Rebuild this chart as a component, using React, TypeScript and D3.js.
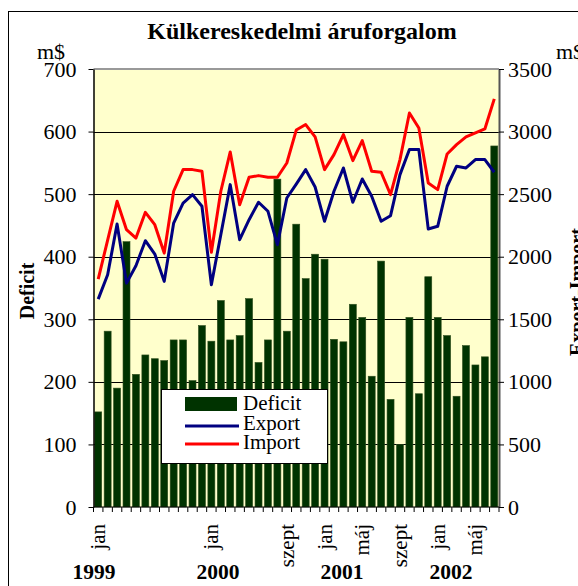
import React, { useEffect, useRef } from 'react';
import * as d3 from 'd3';

// monthly data, Jan 1999 - Jul 2002
const categories = [
  '1999-01', '1999-02', '1999-03', '1999-04', '1999-05', '1999-06', '1999-07', '1999-08', '1999-09', '1999-10', '1999-11', '1999-12',
  '2000-01', '2000-02', '2000-03', '2000-04', '2000-05', '2000-06', '2000-07', '2000-08', '2000-09', '2000-10', '2000-11', '2000-12',
  '2001-01', '2001-02', '2001-03', '2001-04', '2001-05', '2001-06', '2001-07', '2001-08', '2001-09', '2001-10', '2001-11', '2001-12',
  '2002-01', '2002-02', '2002-03', '2002-04', '2002-05', '2002-06', '2002-07',
];

const deficit = [
  152, 281, 190, 424, 212, 243, 237, 234, 267, 267, 202, 290,
  265, 330, 267, 274, 333, 231, 267, 524, 281, 452, 365, 404,
  396, 268, 264, 324, 303, 209, 393, 172, 100, 303, 181, 368,
  303, 274, 177, 258, 227, 240, 577,
];

const exportValues = [
  1661, 1856, 2261, 1789, 1928, 2128, 2021, 1803, 2269, 2429, 2496, 2403,
  1776, 2176, 2576, 2136, 2296, 2435, 2363, 2096, 2469, 2580, 2696, 2557,
  2283, 2523, 2709, 2435, 2621, 2483, 2283, 2328, 2656, 2856, 2856, 2221,
  2243, 2563, 2723, 2709, 2776, 2776, 2675,
];

const importValues = [
  1821, 2133, 2443, 2216, 2149, 2355, 2256, 2029, 2523, 2696, 2696, 2683,
  2035, 2523, 2837, 2416, 2635, 2648, 2635, 2635, 2749, 3012, 3056, 2957,
  2696, 2816, 2976, 2768, 2928, 2683, 2675, 2496, 2776, 3149, 3029, 2589,
  2536, 2821, 2896, 2957, 2989, 3021, 3261,
];

const monthNames = ['jan', 'febr', 'márc', 'ápr', 'máj', 'jún', 'júl', 'aug', 'szept', 'okt', 'nov', 'dec'];
const labelledMonths = ['1999-01', '2000-01', '2000-09', '2001-01', '2001-05', '2001-09', '2002-01', '2002-05'];
const years = ['1999', '2000', '2001', '2002'];

const leftTicks = [0, 100, 200, 300, 400, 500, 600, 700];
const rightTicks = [0, 500, 1000, 1500, 2000, 2500, 3000, 3500];

const FONT = '"Liberation Serif", "Times New Roman", serif';

const App = () => {
  const ref = useRef<SVGSVGElement>(null);

  useEffect(() => {
    const svg = d3.select(ref.current);
    svg.selectAll('*').remove();

    const left = 93.5, right = 499, top = 69, bottom = 507;

    const x = d3.scaleBand<string>()
      .domain(categories)
      .range([left, right])
      .paddingInner(0.26)
      .paddingOuter(0.13);
    const step = x.step();
    const center = (c: string) => (x(c) as number) + x.bandwidth() / 2;

    const yL = d3.scaleLinear().domain([0, 700]).range([bottom, top]);
    const yR = d3.scaleLinear().domain([0, 3500]).range([bottom, top]);

    // outer chart frame (runs off the page on right/bottom)
    svg.append('rect')
      .attr('x', 8.5).attr('y', 11.5)
      .attr('width', 600).attr('height', 600)
      .attr('fill', 'white').attr('stroke', '#000');

    // plot area
    svg.append('rect')
      .attr('x', left).attr('y', top)
      .attr('width', right - left).attr('height', bottom - top)
      .attr('fill', '#FFFFCC');
    svg.append('line')
      .attr('x1', left).attr('x2', right).attr('y1', top).attr('y2', top)
      .attr('stroke', '#999').attr('stroke-width', 2);

    // gridlines
    svg.append('g')
      .selectAll('line')
      .data(leftTicks.filter(t => t > 0 && t < 700))
      .enter().append('line')
      .attr('x1', left).attr('x2', right)
      .attr('y1', d => Math.round(yL(d)) + 0.5).attr('y2', d => Math.round(yL(d)) + 0.5)
      .attr('stroke', '#000');

    // bars
    svg.append('g')
      .selectAll('rect')
      .data(categories)
      .enter().append('rect')
      .attr('x', d => x(d) as number)
      .attr('y', (d, i) => yL(deficit[i]))
      .attr('width', x.bandwidth())
      .attr('height', (d, i) => bottom - yL(deficit[i]))
      .attr('fill', '#003300')
      .attr('stroke', '#2f4f1f')
      .attr('stroke-width', 0.6);

    // lines
    const line = d3.line<number>()
      .x((d, i) => center(categories[i]))
      .y(d => yR(d));
    svg.append('path')
      .datum(exportValues)
      .attr('d', line)
      .attr('fill', 'none')
      .attr('stroke', '#000080')
      .attr('stroke-width', 3)
      .attr('stroke-linejoin', 'round');
    svg.append('path')
      .datum(importValues)
      .attr('d', line)
      .attr('fill', 'none')
      .attr('stroke', '#FF0000')
      .attr('stroke-width', 3)
      .attr('stroke-linejoin', 'round');

    // axes
    const axisLeft = svg.append('g')
      .attr('transform', `translate(${left},0)`)
      .call(d3.axisLeft(yL).tickValues(leftTicks).tickSize(5).tickPadding(12).tickSizeOuter(0));
    const axisRight = svg.append('g')
      .attr('transform', `translate(${right},0)`)
      .call(d3.axisRight(yR).tickValues(rightTicks).tickFormat(d3.format('d')).tickSize(5).tickPadding(4).tickSizeOuter(0));
    [axisLeft, axisRight].forEach(g => {
      g.select('.domain').attr('stroke', '#000').attr('stroke-width', 1.5);
      g.selectAll('line').attr('stroke', '#000');
      g.selectAll('text')
        .attr('font-family', FONT)
        .attr('font-size', 22)
        .attr('fill', '#000');
    });
    axisRight.select('.domain').attr('stroke', '#555').attr('stroke-width', 2);

    // bottom axis
    svg.append('line')
      .attr('x1', left).attr('x2', right).attr('y1', bottom).attr('y2', bottom)
      .attr('stroke', '#000');
    svg.append('g')
      .selectAll('line')
      .data(d3.range(categories.length + 1))
      .enter().append('line')
      .attr('x1', k => left + k * step).attr('x2', k => left + k * step)
      .attr('y1', bottom).attr('y2', bottom + 5)
      .attr('stroke', '#000');

    svg.append('g')
      .selectAll('text')
      .data(labelledMonths)
      .enter().append('text')
      .attr('transform', d => `translate(${center(d) + 7},524) rotate(-90)`)
      .attr('text-anchor', 'end')
      .attr('font-family', FONT)
      .attr('font-size', 21)
      .text(d => monthNames[+d.slice(5) - 1]);

    const yearPos = [-0.45, 12.7, 25.85, 37.4];
    svg.append('g')
      .selectAll('text')
      .data(years)
      .enter().append('text')
      .attr('x', (d, i) => left + (yearPos[i] + 0.5) * step)
      .attr('y', 579)
      .attr('text-anchor', 'middle')
      .attr('font-family', FONT)
      .attr('font-size', 21.5)
      .attr('font-weight', 'bold')
      .text(d => d);

    // titles
    svg.append('text')
      .attr('x', 302).attr('y', 39)
      .attr('text-anchor', 'middle')
      .attr('font-family', FONT)
      .attr('font-size', 24)
      .attr('font-weight', 'bold')
      .text('Külkereskedelmi áruforgalom');
    svg.append('text')
      .attr('x', 37).attr('y', 59)
      .attr('font-family', FONT).attr('font-size', 22)
      .text('m$');
    svg.append('text')
      .attr('x', 556).attr('y', 59)
      .attr('font-family', FONT).attr('font-size', 22)
      .text('m$');
    svg.append('text')
      .attr('transform', 'translate(34,291) rotate(-90)')
      .attr('text-anchor', 'middle')
      .attr('font-family', FONT).attr('font-size', 20).attr('font-weight', 'bold')
      .text('Deficit');
    svg.append('text')
      .attr('transform', 'translate(584,292) rotate(-90)')
      .attr('text-anchor', 'middle')
      .attr('font-family', FONT).attr('font-size', 20).attr('font-weight', 'bold')
      .text('Export-Import');

    // legend
    const legend = svg.append('g');
    legend.append('rect')
      .attr('x', 161.5).attr('y', 389.5)
      .attr('width', 166).attr('height', 74)
      .attr('fill', 'white').attr('stroke', '#000');
    legend.append('rect')
      .attr('x', 185).attr('y', 397)
      .attr('width', 52).attr('height', 14)
      .attr('fill', '#003300');
    legend.append('line')
      .attr('x1', 185).attr('x2', 239).attr('y1', 426).attr('y2', 426)
      .attr('stroke', '#000080').attr('stroke-width', 3);
    legend.append('line')
      .attr('x1', 185).attr('x2', 239).attr('y1', 444).attr('y2', 444)
      .attr('stroke', '#FF0000').attr('stroke-width', 3);
    ['Deficit', 'Export', 'Import'].forEach((name, i) => {
      legend.append('text')
        .attr('x', 243).attr('y', 410 + i * 19.5)
        .attr('font-family', FONT).attr('font-size', 21)
        .text(name);
    });
  }, []);

  return (
    <svg ref={ref} width={578} height={586}
      style={{ position: 'absolute', left: 0, top: 0, background: 'white' }} />
  );
};

export default App;
